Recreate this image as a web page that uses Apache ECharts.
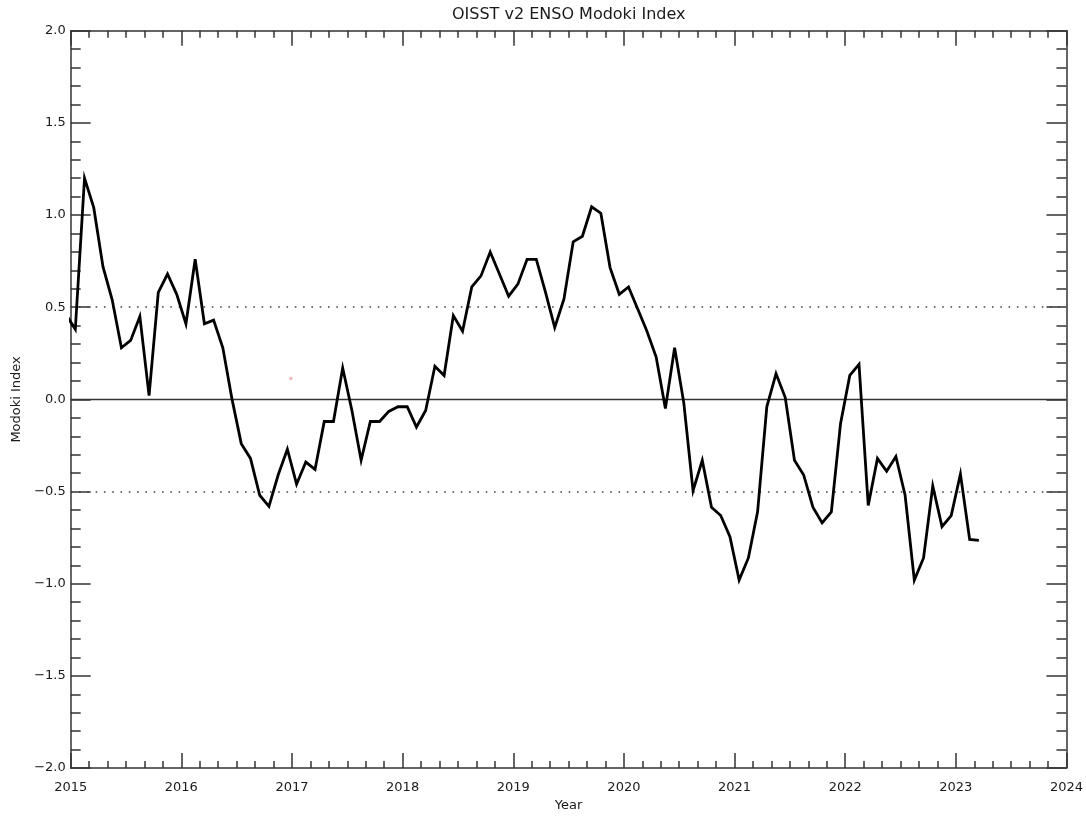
<!DOCTYPE html>
<html>
<head>
<meta charset="utf-8">
<script src="https://cdn.jsdelivr.net/npm/echarts@6/dist/echarts.min.js"></script>
<style>
html,body{margin:0;padding:0;background:#fff;}
#chart{width:1086px;height:817px;}
</style>
</head>
<body>
<div id="chart"></div>
<script>
// Monthly sample labels (YYYY-MM); first point lies just before the axis start and is clipped
var months = [
  '2014-12',
  '2015-01','2015-02','2015-03','2015-04','2015-05','2015-06','2015-07','2015-08','2015-09','2015-10','2015-11','2015-12',
  '2016-01','2016-02','2016-03','2016-04','2016-05','2016-06','2016-07','2016-08','2016-09','2016-10','2016-11','2016-12',
  '2017-01','2017-02','2017-03','2017-04','2017-05','2017-06','2017-07','2017-08','2017-09','2017-10','2017-11','2017-12',
  '2018-01','2018-02','2018-03','2018-04','2018-05','2018-06','2018-07','2018-08','2018-09','2018-10','2018-11','2018-12',
  '2019-01','2019-02','2019-03','2019-04','2019-05','2019-06','2019-07','2019-08','2019-09','2019-10','2019-11','2019-12',
  '2020-01','2020-02','2020-03','2020-04','2020-05','2020-06','2020-07','2020-08','2020-09','2020-10','2020-11','2020-12',
  '2021-01','2021-02','2021-03','2021-04','2021-05','2021-06','2021-07','2021-08','2021-09','2021-10','2021-11','2021-12',
  '2022-01','2022-02','2022-03','2022-04','2022-05','2022-06','2022-07','2022-08','2022-09','2022-10','2022-11','2022-12',
  '2023-01','2023-02','2023-03'
];
// ENSO Modoki index values
var modoki = [
  0.46,
  0.38, 1.20, 1.04, 0.72, 0.54, 0.28, 0.32, 0.45, 0.02, 0.58, 0.68, 0.57,
  0.41, 0.76, 0.41, 0.43, 0.28, 0.00, -0.24, -0.32, -0.52, -0.58, -0.41, -0.27,
  -0.46, -0.34, -0.38, -0.12, -0.12, 0.17, -0.06, -0.33, -0.12, -0.12, -0.065, -0.04,
  -0.04, -0.15, -0.06, 0.18, 0.13, 0.455, 0.37, 0.61, 0.67, 0.80, 0.68, 0.56,
  0.625, 0.76, 0.76, 0.58, 0.39, 0.545, 0.855, 0.885, 1.045, 1.01, 0.715, 0.57,
  0.61, 0.49, 0.37, 0.23, -0.05, 0.28, -0.02, -0.495, -0.33, -0.585, -0.63, -0.745,
  -0.98, -0.86, -0.61, -0.04, 0.14, 0.01, -0.33, -0.41, -0.585, -0.67, -0.61, -0.13,
  0.13, 0.19, -0.575, -0.32, -0.39, -0.31, -0.52, -0.98, -0.86, -0.47, -0.69, -0.63,
  -0.405, -0.76, -0.765
];
// stray marker in the original figure
var strayPoint = [[2016.99, 0.113]];
// reference levels
var zeroLine = 0;
var thresholdLines = [0.5, -0.5];
// axis ranges / ticks
var xMin = 2015, xMax = 2024, xStep = 1;
var yMin = -2, yMax = 2, yStep = 0.5;

function toDecimalYear(s){
  var p = s.split('-');
  return parseInt(p[0],10) + (parseInt(p[1],10) - 0.5) / 12;
}
var lineData = months.map(function(m,i){ return [toDecimalYear(m), modoki[i]]; });

var FONT = 'DejaVu Sans';
var AX = '#333';
var TXT = '#1a1a1a';
var chart = echarts.init(document.getElementById('chart'), null, {renderer:'canvas'});

function yFmt(v){ return v.toFixed(1).replace('-', '\u2212'); }

var xBase = {
  type:'value', min:xMin, max:xMax, interval:xStep,
  axisLine:{show:true, onZero:false, lineStyle:{color:AX, width:1.5}},
  axisTick:{show:true, inside:true, length:15, lineStyle:{color:AX, width:1.5}},
  minorTick:{show:true, splitNumber:6, length:7, lineStyle:{color:AX, width:1.5}},
  splitLine:{show:false}, minorSplitLine:{show:false}
};
var yBase = {
  type:'value', min:yMin, max:yMax, interval:yStep,
  axisLine:{show:true, onZero:false, lineStyle:{color:AX, width:1.5}},
  axisTick:{show:true, inside:true, length:20, lineStyle:{color:AX, width:1.5}},
  minorTick:{show:true, splitNumber:5, length:10, lineStyle:{color:AX, width:1.5}},
  splitLine:{show:false}, minorSplitLine:{show:false}
};

var option = {
  animation:false,
  backgroundColor:'#fff',
  grid:{left:70.7, right:19.3, top:30.7, bottom:42, containLabel:false},
  graphic:[{
    type:'text', x:568.7, y:15,
    style:{text:'OISST v2 ENSO Modoki Index', fill:TXT, font:'16px "DejaVu Sans"',
      textAlign:'center', textVerticalAlign:'middle'}
  }],
  xAxis:[
    Object.assign({}, xBase, {
      position:'bottom',
      name:'Year', nameLocation:'middle', nameGap:29,
      nameTextStyle:{color:TXT, fontFamily:FONT, fontSize:13},
      axisLabel:{show:true, margin:13, color:TXT, fontFamily:FONT, fontSize:13,
        formatter:function(v){ return String(v); }}
    }),
    Object.assign({}, xBase, {position:'top', axisLabel:{show:false}})
  ],
  yAxis:[
    Object.assign({}, yBase, {
      position:'left',
      name:'Modoki Index', nameLocation:'middle', nameGap:46, nameRotate:90,
      nameTextStyle:{color:TXT, fontFamily:FONT, fontSize:13},
      axisLabel:{show:true, margin:5, color:TXT, fontFamily:FONT, fontSize:13, formatter:yFmt}
    }),
    Object.assign({}, yBase, {position:'right', axisLabel:{show:false}})
  ],
  series:[
    {
      type:'line', xAxisIndex:0, yAxisIndex:0,
      data:lineData, showSymbol:false, symbol:'none', clip:true,
      lineStyle:{color:'#000', width:2.8, join:'miter', miterLimit:6},
      z:5,
      markLine:{
        silent:true, symbol:'none', animation:false,
        label:{show:false},
        data:[
          {yAxis:zeroLine, lineStyle:{color:'#333', width:1.4, type:'solid'}},
          {yAxis:thresholdLines[0], lineStyle:{color:'#444', width:1.6, type:[1.6,6.7]}},
          {yAxis:thresholdLines[1], lineStyle:{color:'#444', width:1.6, type:[1.6,6.7]}}
        ]
      }
    },
    {
      type:'scatter', xAxisIndex:0, yAxisIndex:0,
      data:strayPoint, symbol:'rect', symbolSize:3,
      itemStyle:{color:'#f6a3a3'}, silent:true, z:4
    }
  ]
};
chart.setOption(option);
</script>
</body>
</html>
